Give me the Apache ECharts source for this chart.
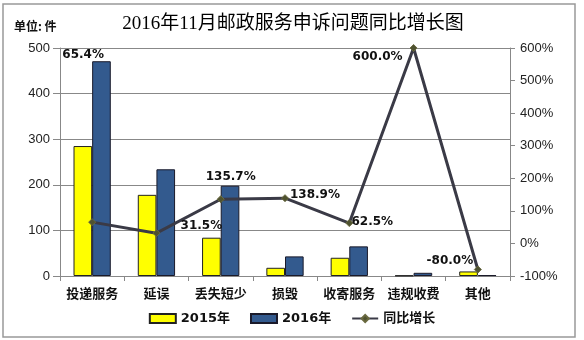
<!DOCTYPE html>
<html><head><meta charset="utf-8">
<script src="https://cdn.jsdelivr.net/npm/echarts@6/dist/echarts.min.js"></script>
<style>html,body{margin:0;padding:0;background:#fff}#c{width:584px;height:340px}</style>
</head><body><div id="c"></div>
<script>
const categories = ['投递服务','延误','丢失短少','损毁','收寄服务','违规收费','其他'];
const values2015 = [285, 178, 84, 18, 40, 1, 10];
const values2016 = [471, 234, 198, 43, 65, 7, 2];
const growthPct = [65.4, 31.5, 135.7, 138.9, 62.5, 600.0, -80.0];
const leftTicks = {min: 0, max: 500, interval: 100};
const rightTicks = {min: -100, max: 600, interval: 100};
const labelOffsets = [[-9,-167],[45,-7],[10,-22],[30,-3],[23,-1],[-36,9],[-28,-9]];

const chart = echarts.init(document.getElementById('c'), null, {renderer:'canvas'});
const axisLabelFont = {fontFamily:'Liberation Sans, sans-serif', fontSize:13, color:'#222'};
chart.setOption({
  animation:false,
  backgroundColor:'#fff',
  title:{
    text:'2016年11月邮政服务申诉问题同比增长图',
    left:288, top:10, textAlign:'center',
    textStyle:{fontFamily:'Liberation Serif, Noto Sans CJK SC, serif', fontSize:19, fontWeight:'normal', color:'#000'}
  },
  graphic:[
    {type:'rect', shape:{x:3,y:4,width:572,height:333}, style:{fill:'none', stroke:'#999', lineWidth:1.5}, silent:true, z:-1},
    {type:'text', left:14, top:20, style:{text:'单位: 件', font:'bold 12px "Noto Sans CJK SC"', fill:'#111'}}
  ],
  legend:{
    bottom:10, left:'center', itemWidth:26, itemHeight:9, itemGap:20,
    textStyle:{fontFamily:'DejaVu Sans, Noto Sans CJK SC', fontWeight:'bold', fontSize:13, color:'#111'},
    data:[
      {name:'2015年', icon:'rect'},
      {name:'2016年', icon:'rect'},
      {name:'同比增长'}
    ]
  },
  grid:{left:60, right:74, top:48, bottom:64},
  xAxis:{
    type:'category', data:categories,
    axisLine:{lineStyle:{color:'#888', width:1}},
    axisTick:{show:true, length:5, lineStyle:{color:'#888'}},
    axisLabel:{interval:0, margin:11, fontFamily:'Noto Sans CJK SC', fontWeight:'bold', fontSize:13, color:'#111'}
  },
  yAxis:[
    {type:'value', min:leftTicks.min, max:leftTicks.max, interval:leftTicks.interval,
     axisLine:{show:true, lineStyle:{color:'#888'}},
     axisTick:{show:true, length:7, lineStyle:{color:'#888'}},
     splitLine:{show:true, lineStyle:{color:'#888', width:1}},
     axisLabel:Object.assign({margin:10}, axisLabelFont)},
    {type:'value', min:rightTicks.min, max:rightTicks.max, interval:rightTicks.interval,
     position:'right',
     axisLine:{show:true, lineStyle:{color:'#888'}},
     axisTick:{show:true, length:5, lineStyle:{color:'#888'}},
     splitLine:{show:false},
     axisLabel:Object.assign({margin:10, formatter:'{value}%'}, axisLabelFont)}
  ],
  series:[
    {name:'2015年', type:'bar', data:values2015, barGap:'0%', barCategoryGap:'42%',
     itemStyle:{color:'#FFFF00', borderColor:'#222', borderWidth:1}},
    {name:'2016年', type:'bar', data:values2016, barGap:'0%', barCategoryGap:'42%',
     itemStyle:{color:'#335A8E', borderColor:'#1a1a2a', borderWidth:1}},
    {name:'同比增长', type:'line', yAxisIndex:1,
     data:growthPct.map((v,i)=>({value:v, label:{offset:labelOffsets[i]}})),
     symbol:'diamond', symbolSize:7,
     lineStyle:{color:'#3a3a46', width:3},
     itemStyle:{color:'#4e5230', borderColor:'#6a6a40', borderWidth:1},
     label:{show:true, position:'inside', formatter:p=>p.value.toFixed(1)+'%',
       fontFamily:'DejaVu Sans, sans-serif', fontWeight:'bold', fontSize:12, color:'#111'},
     z:5}
  ]
});
</script></body></html>
